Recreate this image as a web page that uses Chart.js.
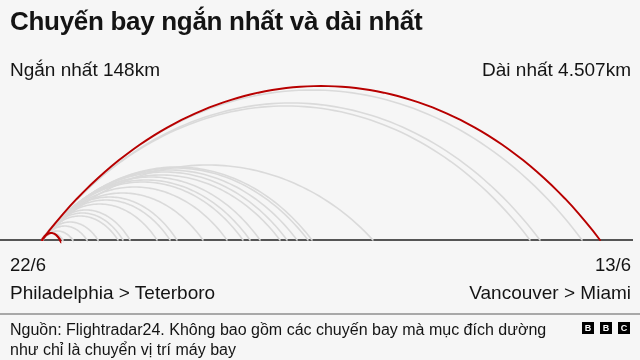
<!DOCTYPE html>
<html>
<head>
<meta charset="utf-8">
<script src="https://cdn.jsdelivr.net/npm/chart.js@4.4.1/dist/chart.umd.min.js"></script>
<style>
  html, body { margin: 0; padding: 0; }
  body { width: 640px; height: 360px; overflow: hidden; background: #f6f6f6; position: relative;
         font-family: "Liberation Sans", Arial, Helvetica, sans-serif; color: #141414; }
  #wrap { position: absolute; left: 0; top: 0; width: 640px; height: 360px; }
  .t { position: absolute; white-space: nowrap; }
  #title { left: 10px; top: 6px; font-size: 26px; font-weight: bold; letter-spacing: -0.3px; }
  #lblShort { left: 10px; top: 59px; font-size: 19px; }
  #lblLong { right: 9px; top: 59px; font-size: 19px; }
  #dateL { left: 10px; top: 254px; font-size: 18.5px; }
  #dateR { right: 9px; top: 254px; font-size: 18.5px; }
  #routeL { left: 10px; top: 282px; font-size: 19px; }
  #routeR { right: 9px; top: 282px; font-size: 19px; }
  #sep { position: absolute; left: 0; top: 313px; width: 640px; height: 2px; background: #a8a8a8; }
  #foot { left: 10px; top: 320px; font-size: 16px; line-height: 20px; white-space: normal; width: 555px; }
  #bbc { position: absolute; right: 10px; top: 322px; display: flex; gap: 6px; }
  #bbc span { display: block; width: 12px; height: 12px; background: #000; color: #fff; font-weight: bold;
              font-size: 9px; line-height: 12px; text-align: center; }
</style>
</head>
<body>
<div id="wrap"><canvas id="c" width="640" height="360"></canvas></div>
<div class="t" id="title">Chuyến bay ngắn nhất và dài nhất</div>
<div class="t" id="lblShort">Ngắn nhất 148km</div>
<div class="t" id="lblLong">Dài nhất 4.507km</div>
<div class="t" id="dateL">22/6</div>
<div class="t" id="dateR">13/6</div>
<div class="t" id="routeL">Philadelphia &gt; Teterboro</div>
<div class="t" id="routeR">Vancouver &gt; Miami</div>
<div id="sep"></div>
<div class="t" id="foot">Nguồn: Flightradar24. Không bao gồm các chuyến bay mà mục đích dường như chỉ là chuyển vị trí máy bay</div>
<div id="bbc"><span>B</span><span>B</span><span>C</span></div>
<script>
// Flight distances (km) of the other flights, read from where each grey arc lands
const flightKm = [170, 250, 363, 452, 614, 654, 711, 929, 1034, 1090, 1300, 1494, 1623, 1680, 1761, 1922, 1979, 2060, 2148, 2181, 2673, 3941, 4022, 4362];
// Relative arc height of each grey flight (same order)
const flightArc = [7, 9, 14, 18, 24, 27, 30, 36, 40, 43, 47, 53, 58, 60, 63, 65, 68, 70, 72, 73, 75, 134, 137, 150];
// Highlighted: shortest and longest
const highlightKm = [148, 4507];
const highlightArc = [7, 154];
const highlightRoutes = ["Philadelphia > Teterboro", "Vancouver > Miami"];

const S = Math.SQRT1_2, C = Math.SQRT1_2; // 45° elliptical segment shape
function arcPoints(km, h) {
  const pts = [];
  const n = 80;
  for (let i = 0; i <= n; i++) {
    const u = -1 + 2 * i / n;
    pts.push({ x: km * (u + 1) / 2, y: h * (Math.sqrt(1 - (u * S) * (u * S)) - C) / (1 - C) });
  }
  return pts;
}

const datasets = [];
// highlighted flights first so they are drawn on top
highlightKm.forEach((km, i) => {
  datasets.push({ label: highlightRoutes[i], data: arcPoints(km, highlightArc[i]), borderColor: '#b80000', borderWidth: 1.9, order: 0 });
});
flightKm.forEach((km, i) => {
  datasets.push({ data: arcPoints(km, flightArc[i]), borderColor: '#dadada', borderWidth: 1.6, order: 1 });
});

const kmPerPx = 4507 / 558;
new Chart(document.getElementById('c'), {
  type: 'scatter',
  data: { datasets },
  options: {
    responsive: false,
    animation: false,
    events: [],
    showLine: true,
    layout: { padding: { left: 0, right: 8, top: 86, bottom: 120 } },
    elements: { point: { radius: 0 }, line: { tension: 0, borderCapStyle: 'round' } },
    datasets: { scatter: { clip: false } },
    plugins: { legend: { display: false }, tooltip: { enabled: false } },
    scales: {
      x: { type: 'linear', min: -42 * kmPerPx, max: -42 * kmPerPx + 632 * kmPerPx,
           grid: { display: false, drawTicks: false }, ticks: { display: false },
           border: { display: true, color: '#555555', width: 2 } },
      y: { type: 'linear', display: false, min: 0, max: 154 }
    }
  }
});
</script>
</body>
</html>
